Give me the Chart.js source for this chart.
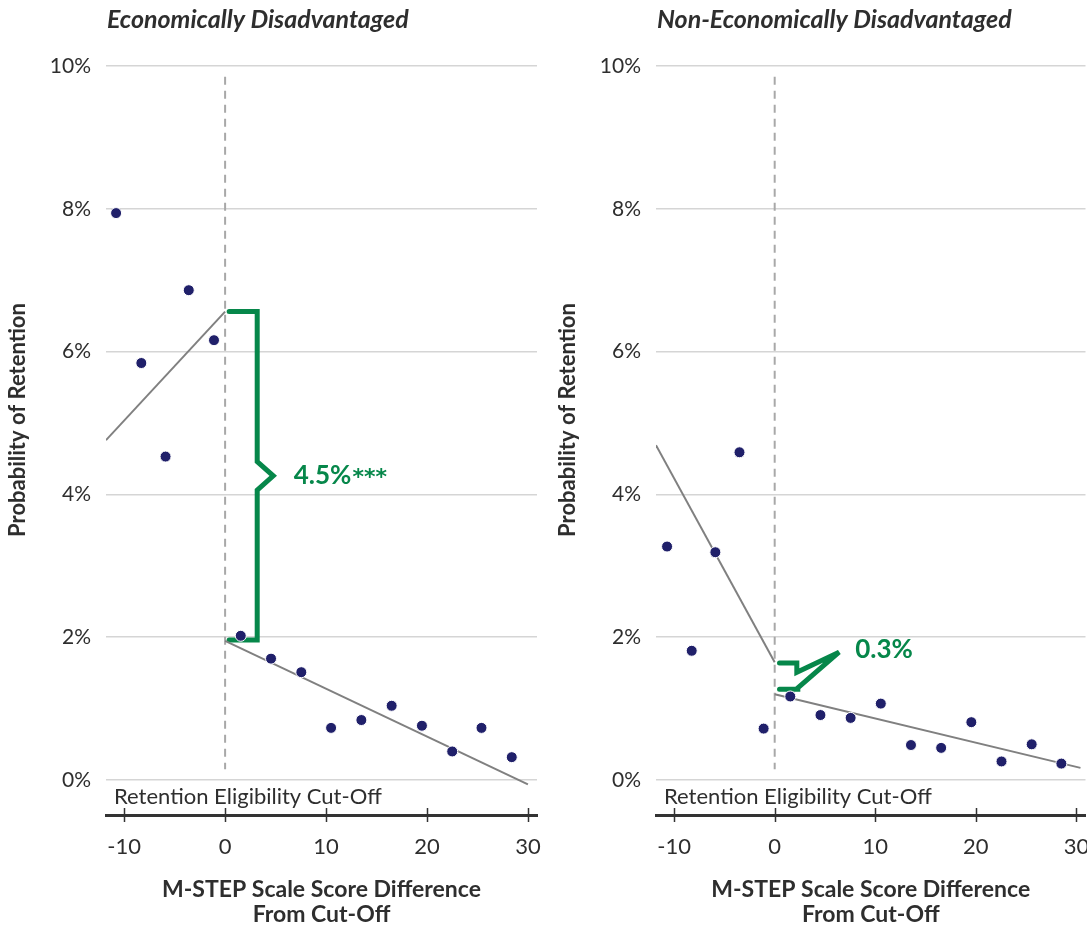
<!DOCTYPE html>
<html>
<head>
<meta charset="utf-8">
<script src="https://cdn.jsdelivr.net/npm/chart.js@4.4.1/dist/chart.umd.min.js"></script>
<style>
  html, body { margin: 0; padding: 0; background: #fff; overflow: hidden; }
  #wrap { position: relative; width: 1087px; height: 929px; overflow: hidden; }
  .panel { position: absolute; top: 0; height: 929px; }
  .panel canvas { display: block; }
  #left  { left: 0;   width: 545px; }
  #right { left: 550px; width: 542px; }
</style>
</head>
<body>
<div id="wrap">
  <div class="panel" id="left"><canvas id="chart-ed"></canvas></div>
  <div class="panel" id="right"><canvas id="chart-ned"></canvas></div>
</div>
<script>
// ── Dados ─────────────────────────────────────────────────────
const xTicks = [-10, 0, 10, 20, 30];
const yTicks = [0, 2, 4, 6, 8, 10];

// Economically Disadvantaged
const edBinX = [-10.8, -8.3, -5.9, -3.6, -1.1, 1.55, 4.55, 7.55, 10.5, 13.5, 16.5, 19.5, 22.5, 25.4, 28.4];
const edRate = [7.94, 5.84, 4.53, 6.86, 6.16, 2.02, 1.70, 1.51, 0.73, 0.84, 1.04, 0.76, 0.40, 0.73, 0.32];
const edFitPreX  = [-11.8, 0];
const edFitPreY  = [4.76, 6.56];
const edFitPostX = [0, 30.0];
const edFitPostY = [1.95, -0.06];
const edGapLabel = '4.5%';
const edGapStars = '***';

// Non-Economically Disadvantaged
const nedBinX = [-10.7, -8.25, -5.9, -3.5, -1.1, 1.55, 4.55, 7.55, 10.55, 13.55, 16.55, 19.55, 22.55, 25.55, 28.5];
const nedRate = [3.27, 1.81, 3.19, 4.59, 0.72, 1.17, 0.91, 0.87, 1.07, 0.49, 0.45, 0.81, 0.26, 0.50, 0.23];
const nedFitPreX  = [-11.8, 0];
const nedFitPreY  = [4.69, 1.65];
const nedFitPostX = [0, 30.4];
const nedFitPostY = [1.20, 0.17];
const nedGapLabel = '0.3%';
const nedGapStars = '';

// linha de corte (x = 0)
const cutX = [0, 0];
const cutY = [9.85, 0.15];

// chaves verdes (em unidades dos dados)
const edBraceX  = [0.4, 3.18, 3.18, 4.77, 3.18, 3.18, 0.4];
const edBraceY  = [6.56, 6.56, 4.46, 4.26, 4.06, 1.96, 1.96];
const nedBraceX = [0.48, 2.2, 2.2, 6.4, 2.3, 2.3, 0.48];
const nedBraceY = [1.64, 1.64, 1.51, 1.79, 1.29, 1.27, 1.27];

const GREEN = '#06874a';
const NAVY  = '#20206a';
const TEXT  = '#2e2e2e';

const zip = (xs, ys) => xs.map((x, i) => ({ x, y: ys[i] }));

// ── Plugin de anotações ──────────────────────────────────────
const annotPlugin = {
    id: 'annot',
    beforeDatasetsDraw(chart) {
        const a = chart.options.plugins.annot;
        const { ctx, scales: { x, y } } = chart;
        ctx.save();
        ctx.strokeStyle = GREEN;
        ctx.lineWidth = 5;
        ctx.lineJoin = 'miter';
        ctx.miterLimit = 4;
        ctx.lineCap = 'round';
        ctx.beginPath();
        a.braceX.forEach((v, i) => {
            const px = x.getPixelForValue(v), py = y.getPixelForValue(a.braceY[i]);
            i === 0 ? ctx.moveTo(px, py) : ctx.lineTo(px, py);
        });
        ctx.stroke();
        ctx.restore();
    },
    afterDraw(chart) {
        const a = chart.options.plugins.annot;
        const { ctx, chartArea: area, scales: { x, y } } = chart;
        ctx.save();

        // marcas do eixo x (atravessam a linha)
        ctx.strokeStyle = '#333';
        ctx.lineWidth = 1.5;
        xTicks.forEach(t => {
            const px = Math.round(x.getPixelForValue(t)) + 0.5;
            ctx.beginPath();
            ctx.moveTo(px, area.bottom - 7);
            ctx.lineTo(px, area.bottom + 7);
            ctx.stroke();
        });

        // título do painel
        ctx.fillStyle = TEXT;
        ctx.textAlign = 'left';
        ctx.textBaseline = 'alphabetic';
        ctx.font = 'italic bold 25px Lato';
        ctx.fillText(a.title, area.left + 1, 28);

        // rótulo da linha de corte
        ctx.font = '22px Lato';
        ctx.textBaseline = 'middle';
        ctx.fillText('Retention Eligibility Cut-Off', area.left + 8, 797);

        // título do eixo x
        ctx.font = 'bold 23px Lato';
        ctx.textAlign = 'center';
        const cx = (area.left + area.right) / 2;
        ctx.fillText('M-STEP Scale Score Difference', cx, 890);
        ctx.fillText('From Cut-Off', cx, 915);

        // título do eixo y
        ctx.save();
        ctx.translate(18, 420);
        ctx.rotate(-Math.PI / 2);
        ctx.font = 'bold 22px Lato';
        ctx.fillText('Probability of Retention', 0, 0);
        ctx.restore();

        // valor da descontinuidade
        ctx.fillStyle = GREEN;
        ctx.textAlign = 'left';
        ctx.textBaseline = 'alphabetic';
        ctx.font = 'bold 26px Lato';
        const lx = x.getPixelForValue(a.labelX), ly = y.getPixelForValue(a.labelY) + 9;
        ctx.fillText(a.label, lx, ly);
        if (a.stars) {
            const w = ctx.measureText(a.label).width;
            ctx.font = 'bold 22px "DejaVu Sans"';
            ctx.fillText(a.stars, lx + w + 1, ly);
        }
        ctx.restore();
    }
};

function makeChart(canvasId, d) {
    const ctx = document.getElementById(canvasId).getContext('2d');
    return new Chart(ctx, {
        type: 'scatter',
        data: {
            datasets: [
                { data: zip(d.binX, d.rate), pointRadius: 5.5, pointHoverRadius: 5.5,
                  backgroundColor: NAVY, borderColor: '#fff', borderWidth: 1 },
                { data: zip(d.preX, d.preY), showLine: true, borderColor: '#808080',
                  borderWidth: 2, pointRadius: 0 },
                { data: zip(d.postX, d.postY), showLine: true, borderColor: '#808080',
                  borderWidth: 2, pointRadius: 0 },
                { data: zip(cutX, cutY), showLine: true, borderColor: '#a8a8a8',
                  borderWidth: 2, borderDash: [8, 6], pointRadius: 0 },
            ]
        },
        options: {
            responsive: true, maintainAspectRatio: false, animation: false,
            layout: { padding: { top: 66, right: d.padRight, bottom: 0, left: 0 } },
            plugins: {
                legend: { display: false },
                tooltip: { enabled: false },
                annot: d.annot,
            },
            scales: {
                x: {
                    type: 'linear', min: -11.8, max: 30.9,
                    afterBuildTicks: s => { s.ticks = xTicks.map(v => ({ value: v })); },
                    afterFit: s => { s.height = 114; s.paddingLeft = 0; s.paddingRight = 0; },
                    grid: { display: false, drawTicks: false },
                    border: { display: true, color: '#333', width: 3 },
                    ticks: { font: { family: 'Lato', size: 22 }, color: TEXT, padding: 19, maxRotation: 0 },
                },
                y: {
                    type: 'linear', min: -0.49, max: 10,
                    afterBuildTicks: s => { s.ticks = yTicks.map(v => ({ value: v })); },
                    afterFit: s => { s.width = 106; },
                    grid: { color: '#d5d5d5', lineWidth: 1.5, drawTicks: false },
                    border: { display: false },
                    ticks: { font: { family: 'Lato', size: 21 }, color: TEXT, padding: 15,
                             callback: v => v + '%' },
                },
            },
        },
        plugins: [annotPlugin],
    });
}

makeChart('chart-ed', {
    binX: edBinX, rate: edRate,
    preX: edFitPreX, preY: edFitPreY, postX: edFitPostX, postY: edFitPostY,
    padRight: 8,
    annot: { title: 'Economically Disadvantaged', braceX: edBraceX, braceY: edBraceY,
             label: edGapLabel, stars: edGapStars, labelX: 6.8, labelY: 4.27 },
});

makeChart('chart-ned', {
    binX: nedBinX, rate: nedRate,
    preX: nedFitPreX, preY: nedFitPreY, postX: nedFitPostX, postY: nedFitPostY,
    padRight: 0,
    annot: { title: 'Non-Economically Disadvantaged', braceX: nedBraceX, braceY: nedBraceY,
             label: nedGapLabel, stars: nedGapStars, labelX: 8.0, labelY: 1.83 },
});
</script>
</body>
</html>
